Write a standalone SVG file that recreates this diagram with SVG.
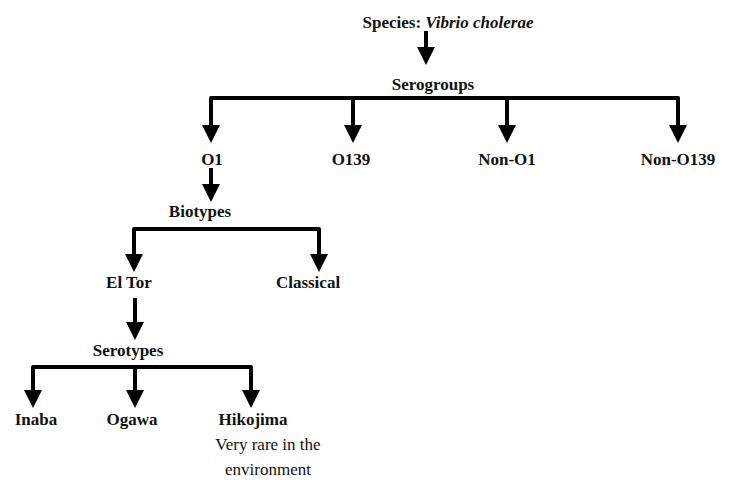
<svg xmlns="http://www.w3.org/2000/svg" width="729" height="480" viewBox="0 0 729 480">
<style>
text{font-family:"Liberation Serif","Times New Roman",serif;font-size:17px;fill:#111;text-anchor:middle}
.b{font-weight:bold}
.c{fill:none;stroke:#000;stroke-width:4;stroke-linejoin:round}
.a{marker-end:url(#ah)}
.s{marker-start:url(#ah);marker-end:url(#ah)}
</style>
<defs>
<marker id="ah" viewBox="0 0 18 18" refX="8" refY="9" markerWidth="18" markerHeight="18" markerUnits="userSpaceOnUse" orient="auto-start-reverse">
<path d="M0,0 L18,9 L0,18 z" fill="#000"/>
</marker>
</defs>
<rect width="729" height="480" fill="#fff"/>
<g id="connectors">
<path class="c a" d="M426,31 V55"/>
<path class="c s" d="M211,133 V98 H678 V133"/>
<path class="c a" d="M353,98 V133"/>
<path class="c a" d="M507,98 V133"/>
<path class="c a" d="M211,168 V192"/>
<path class="c s" d="M134,262 V229 H319 V262"/>
<path class="c a" d="M135,298 V330"/>
<path class="c s" d="M33,398 V367 H251 V398"/>
<path class="c a" d="M135,367 V398"/>
</g>
<g id="species"><text class="b" x="448" y="28">Species: <tspan font-style="italic">Vibrio cholerae</tspan></text></g>
<g id="serogroups"><text class="b" x="433" y="90">Serogroups</text></g>
<g id="o1"><text class="b" x="212" y="165">O1</text></g>
<g id="o139"><text class="b" x="351" y="165">O139</text></g>
<g id="non-o1"><text class="b" x="507" y="165">Non-O1</text></g>
<g id="non-o139"><text class="b" x="678" y="165">Non-O139</text></g>
<g id="biotypes"><text class="b" x="200" y="217">Biotypes</text></g>
<g id="el-tor"><text class="b" x="129" y="288">El Tor</text></g>
<g id="classical"><text class="b" x="308" y="288">Classical</text></g>
<g id="serotypes"><text class="b" x="128" y="356">Serotypes</text></g>
<g id="inaba"><text class="b" x="36" y="425">Inaba</text></g>
<g id="ogawa"><text class="b" x="132" y="425">Ogawa</text></g>
<g id="hikojima"><text class="b" x="253" y="425">Hikojima</text>
<text x="268" y="450">Very rare in the</text>
<text x="268" y="475">environment</text></g>
</svg>
